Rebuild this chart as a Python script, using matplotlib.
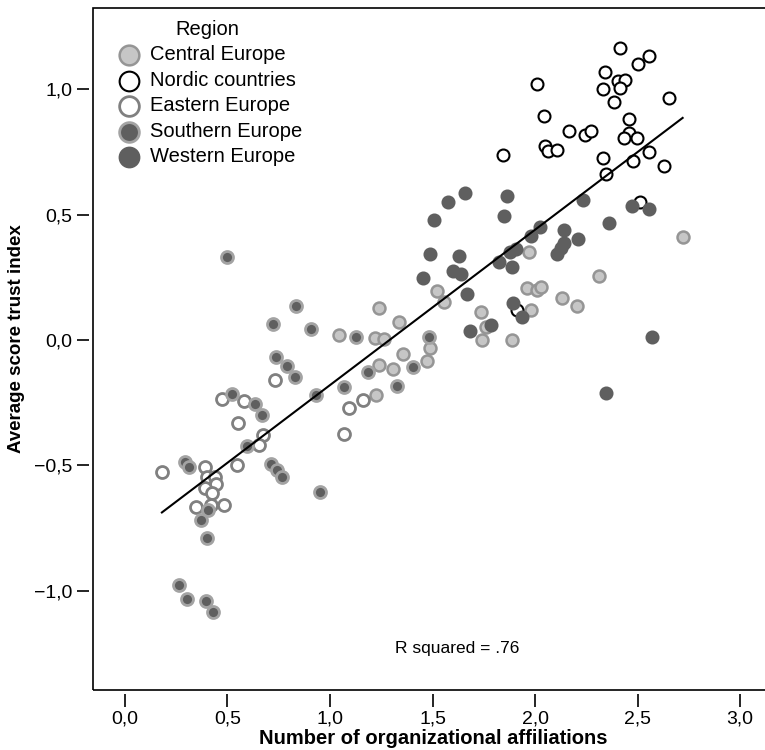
import numpy as np
import matplotlib
matplotlib.use("Agg")
import matplotlib.pyplot as plt
from matplotlib.patches import Rectangle
from matplotlib.ticker import FuncFormatter

plt.rcParams["font.family"] = ["Liberation Sans", "DejaVu Sans"]

# points: (affiliations, trust index)
central_x = [1.522, 1.556, 1.239, 1.337, 1.044, 1.220, 1.263, 1.488, 1.356, 1.473,
             1.239, 1.307, 1.224, 1.737, 1.761, 1.741, 1.888, 1.971, 1.961, 2.010,
             2.029, 2.132, 2.205, 1.980, 2.312, 2.722]
central_y = [0.196, 0.152, 0.128, 0.072, 0.020, 0.008, 0.004, -0.032, -0.056, -0.084,
             -0.100, -0.116, -0.220, 0.112, 0.052, 0.000, 0.000, 0.351, 0.208, 0.200,
             0.212, 0.168, 0.136, 0.120, 0.255, 0.411]

nordic_x = [2.415, 2.556, 2.502, 2.341, 2.010, 2.405, 2.439, 2.415, 2.332, 2.654,
            2.385, 2.044, 2.459, 2.166, 2.244, 2.273, 2.459, 2.434, 2.498, 2.049,
            2.063, 2.107, 1.844, 2.556, 2.332, 2.478, 2.629, 2.346, 2.512, 1.912]
nordic_y = [1.166, 1.134, 1.102, 1.070, 1.022, 1.034, 1.038, 1.006, 1.002, 0.966,
            0.950, 0.894, 0.882, 0.834, 0.818, 0.834, 0.826, 0.806, 0.806, 0.774,
            0.754, 0.758, 0.739, 0.750, 0.727, 0.715, 0.695, 0.663, 0.551, 0.120]

eastern_x = [0.732, 0.473, 0.580, 0.551, 0.673, 0.654, 0.546, 0.180, 0.390, 0.400,
             0.439, 0.444, 0.390, 0.424, 0.346, 0.420, 0.483, 1.161, 1.093, 1.068]
eastern_y = [-0.160, -0.236, -0.244, -0.331, -0.379, -0.419, -0.499, -0.527, -0.507, -0.547,
             -0.547, -0.575, -0.591, -0.611, -0.667, -0.659, -0.659, -0.240, -0.271, -0.375]

southern_x = [0.498, 0.834, 0.722, 0.907, 0.737, 0.790, 0.829, 0.522, 0.634, 0.668,
              0.932, 0.595, 0.293, 0.312, 0.712, 0.741, 0.766, 0.405, 0.371, 0.400,
              0.263, 0.302, 0.395, 0.429, 0.951, 1.127, 1.483, 1.405, 1.185, 1.068, 1.327]
southern_y = [0.331, 0.136, 0.064, 0.044, -0.068, -0.104, -0.148, -0.216, -0.255, -0.299,
              -0.220, -0.423, -0.487, -0.507, -0.495, -0.519, -0.547, -0.679, -0.719, -0.790,
              -0.978, -1.034, -1.042, -1.086, -0.607, 0.012, 0.012, -0.108, -0.128, -0.188, -0.184]

western_x = [1.659, 1.576, 1.507, 1.863, 1.849, 2.234, 2.473, 2.556, 2.361, 2.024,
             1.980, 2.141, 2.210, 2.141, 2.127, 2.107, 1.907, 1.878, 1.824, 1.888,
             1.488, 1.629, 1.600, 1.639, 1.454, 1.668, 1.893, 1.937, 1.785, 1.683,
             2.571, 2.346]
western_y = [0.587, 0.551, 0.479, 0.575, 0.495, 0.559, 0.535, 0.523, 0.467, 0.451,
             0.415, 0.439, 0.403, 0.387, 0.367, 0.343, 0.363, 0.351, 0.311, 0.291,
             0.343, 0.335, 0.275, 0.263, 0.248, 0.184, 0.148, 0.092, 0.060, 0.036,
             0.012, -0.212]

# fitted line
fit_intercept = -0.80
fit_slope = 0.62
fit_range = [0.18, 2.72]
r_squared = ".76"

fig = plt.figure(figsize=(7.65, 7.5), dpi=100)
ax = fig.add_axes([93 / 765, 60 / 750, 1 - 93 / 765 + 0.01, 682 / 750])

groups = [
    ("Central Europe", central_x, central_y, "#c6c6c6", "#959595", 1.8),
    ("Nordic countries", nordic_x, nordic_y, "white", "black", 1.5),
    ("Eastern Europe", eastern_x, eastern_y, "white", "#808080", 2.0),
    ("Southern Europe", southern_x, southern_y, "#5f5f5f", "#a3a3a3", 2.0),
    ("Western Europe", western_x, western_y, "#5f5f5f", "#5f5f5f", 1.5),
]
for name, xs, ys, fc, ec, lw in groups:
    ax.scatter(xs, ys, s=74, facecolors=fc, edgecolors=ec, linewidths=lw,
               label=name, zorder=3)

fx = np.array(fit_range)
ax.plot(fx, fit_intercept + fit_slope * fx, color="black", lw=1.5, zorder=4)

ax.text(1.62, -1.23, "R squared = " + r_squared, ha="center", va="center", fontsize=12.5)

ax.set_xlim(-0.156, 3.159)
ax.set_ylim(-1.397, 1.325)
ax.set_xticks(np.arange(0, 3.01, 0.5))
ax.set_yticks([-1.0, -0.5, 0.0, 0.5, 1.0])
fmt = FuncFormatter(lambda v, p: ("%.1f" % v).replace(".", ",").replace("-", "\u2212"))
ax.xaxis.set_major_formatter(fmt)
ax.yaxis.set_major_formatter(fmt)

# ticks sit a little away from the frame
for side in ["left", "bottom"]:
    ax.spines[side].set_position(("outward", 3))
for side in ax.spines:
    ax.spines[side].set_visible(False)
ax.add_patch(Rectangle((0, 0), 1, 1, transform=ax.transAxes, fill=False,
                       edgecolor="black", lw=1.2, clip_on=False, zorder=5))
ax.tick_params(axis="both", length=9, width=1.2, labelsize=14, pad=3)

ax.set_xlabel("Number of organizational affiliations", fontsize=14.5, fontweight="bold",
              labelpad=1)
ax.set_ylabel("Average score trust index", fontsize=13.5, fontweight="bold",
              labelpad=4)
ax.yaxis.set_label_coords(-0.1, 0.515)

leg = ax.legend(title="Region", loc="upper left", bbox_to_anchor=(0.0177, 0.9912),
                frameon=False, fontsize=14.5, title_fontsize=14.5, markerscale=1.65,
                handletextpad=0.15, labelspacing=0.32, borderaxespad=0.0,
                borderpad=0.3, handlelength=1.8)

fig.savefig("out.png", dpi=100)
